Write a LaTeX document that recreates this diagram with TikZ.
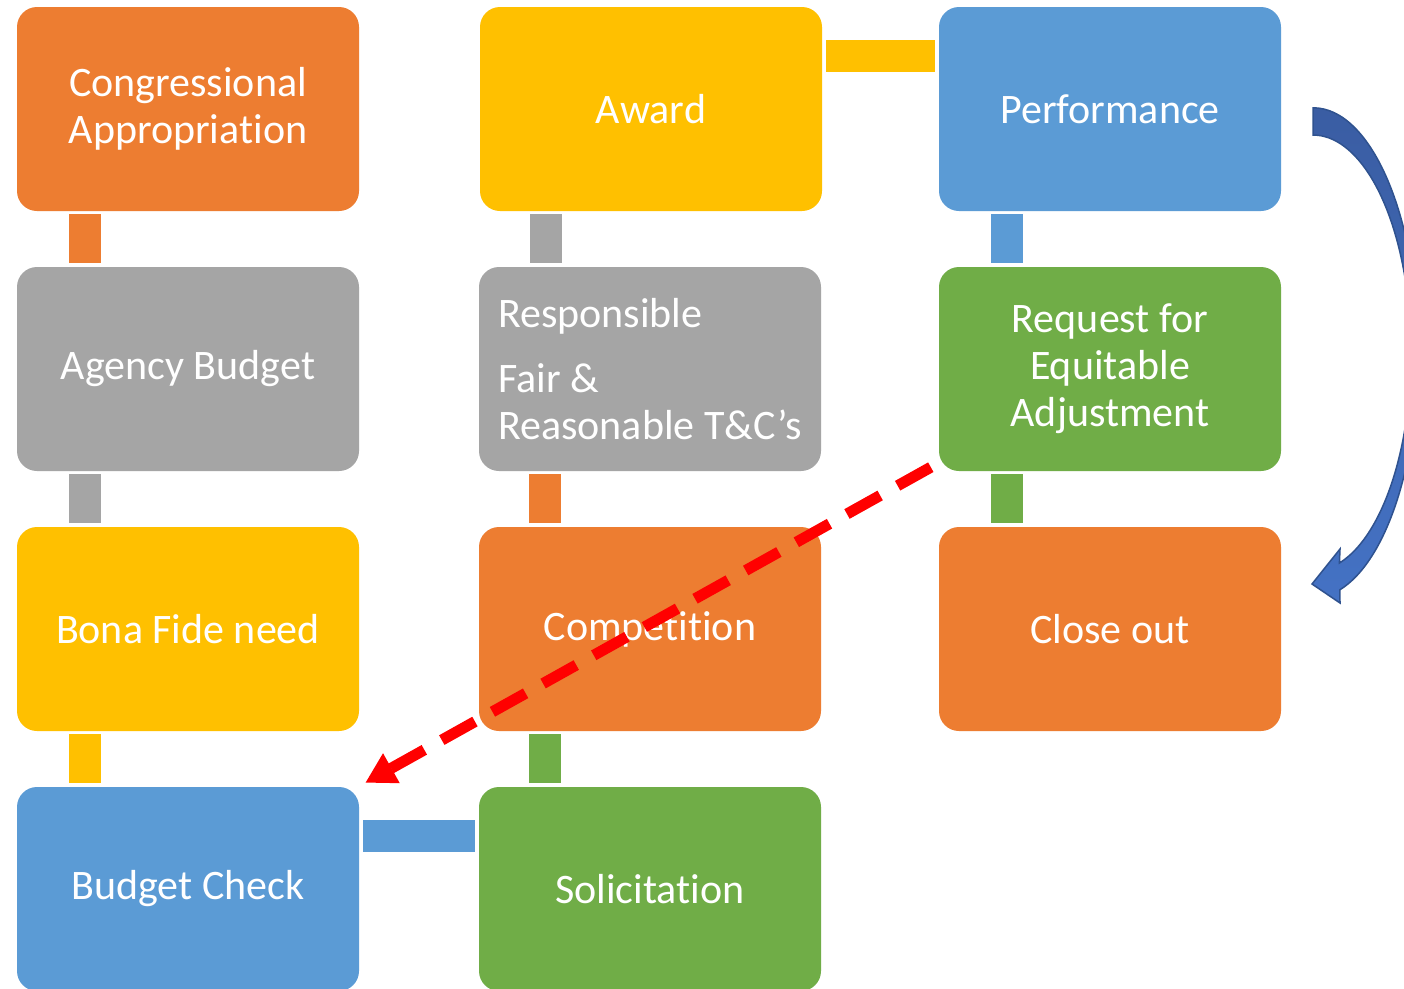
\documentclass[tikz,border=0pt]{standalone}
\usepackage{fontspec}
\setmainfont{Carlito}[Ligatures=CommonOff]
\usetikzlibrary{arrows.meta,calc}
\definecolor{cOrange}{HTML}{ED7D31}
\definecolor{cGray}{HTML}{A5A5A5}
\definecolor{cYellow}{HTML}{FFC000}
\definecolor{cBlue}{HTML}{5B9BD5}
\definecolor{cGreen}{HTML}{70AD47}
\definecolor{cArrowTop}{HTML}{3A5DA3}
\definecolor{cArrowBot}{HTML}{4472C4}
\definecolor{cArrowLine}{HTML}{2F528F}
\definecolor{cRed}{HTML}{FF0000}
\begin{document}
\begin{tikzpicture}[x=1pt,y=-1pt,
  box/.style={rounded corners=20pt, minimum width=342pt, minimum height=204pt, inner sep=0pt,
    text=white, font=\fontsize{42}{47}\selectfont, align=center},
  bar/.style={line width=32pt},
  flowarrow/.style={cRed, line width=11pt, dash pattern=on 38pt off 20pt,
    -{Triangle[length=30pt,width=32pt]}},
  bentarrow/.style={draw=cArrowLine, line width=1.5pt, top color=cArrowTop, bottom color=cArrowBot}
]
\useasboundingbox (0,0) rectangle (1404,988);
\clip (0,0) rectangle (1404,988);
\fill[white] (0,0) rectangle (1404,988);

% boxes
\node[box, fill=cOrange] (cong) at (188,109) {Congressional\\Appropriation};
\node[box, fill=cGray] (agency) at (188,369) {Agency Budget};
\node[box, fill=cYellow] (bona) at (188,629) {Bona Fide need};
\node[box, fill=cBlue] (bcheck) at (188,889) {Budget Check};
\node[box, fill=cGreen] (solic) at (650,889) {Solicitation};
\node[box, fill=cOrange] (comp) at (650,629) {Competition};
\node[box, fill=cGray, align=left] (resp) at (650,369) {Responsible\\[18pt]Fair \&\\Reasonable T\&C’s};
\node[box, fill=cYellow] (award) at (651,109) {Award};
\node[box, fill=cBlue] (perf) at (1110,109) {Performance};
\node[box, fill=cGreen] (rea) at (1110,369) {Request for\\Equitable\\Adjustment};
\node[box, fill=cOrange] (close) at (1110,629) {Close out};

% bars column 1
\draw[bar, cOrange] ([xshift=68pt,yshift=-3pt]cong.south west) -- ([xshift=68pt,yshift=4pt]agency.north west);
\draw[bar, cGray] ([xshift=68pt,yshift=-3pt]agency.south west) -- ([xshift=68pt,yshift=4pt]bona.north west);
\draw[bar, cYellow] ([xshift=68pt,yshift=-3pt]bona.south west) -- ([xshift=68pt,yshift=4pt]bcheck.north west);
% bars column 2
\draw[bar, cGray] ([xshift=66pt,yshift=-3pt]award.south west) -- ([xshift=67pt,yshift=4pt]resp.north west);
\draw[bar, cOrange] ([xshift=66.5pt,yshift=-3pt]resp.south west) -- ([xshift=66.5pt,yshift=4pt]comp.north west);
\draw[bar, cGreen] ([xshift=66.5pt,yshift=-3pt]comp.south west) -- ([xshift=66.5pt,yshift=4pt]solic.north west);
% bars column 3
\draw[bar, cBlue] ([xshift=68pt,yshift=-3pt]perf.south west) -- ([xshift=68pt,yshift=4pt]rea.north west);
\draw[bar, cGreen] ([xshift=68pt,yshift=-3pt]rea.south west) -- ([xshift=68pt,yshift=4pt]close.north west);
% horizontal bars
\draw[bar, cYellow] ([xshift=4pt,yshift=-49pt]award.north east) -- ([xshift=-4pt,yshift=-49pt]perf.north west);
\draw[bar, cBlue] ([xshift=4pt,yshift=-49pt]bcheck.north east) -- ([xshift=-4pt,yshift=-49pt]solic.north west);

% curved block arrow from Performance to Close out
\coordinate (arrstart) at ([xshift=32pt,yshift=-101pt]perf.north east);
\path[bentarrow] (arrstart)
  arc[start angle=90, end angle=-75.3, x radius=105pt, y radius=245pt]
  -- (1340,603) -- (1312,584) -- (1340,549) -- (1339.4,563)
  arc[start angle=-74.4, end angle=90, x radius=98pt, y radius=218pt] -- cycle;

% dashed red arrow
\draw[flowarrow] ([xshift=-8pt,yshift=4pt]rea.south west) -- ([xshift=6pt,yshift=4pt]bcheck.north east);
\end{tikzpicture}
\end{document}
